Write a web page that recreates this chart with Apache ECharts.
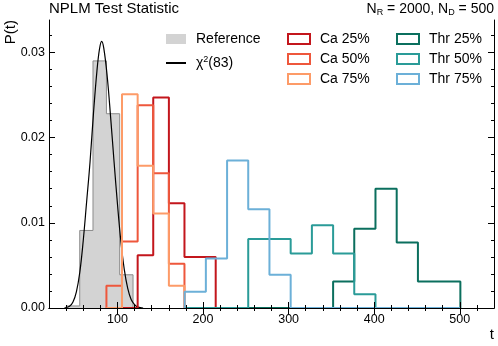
<!DOCTYPE html>
<html>
<head>
<meta charset="utf-8">
<script src="https://cdn.jsdelivr.net/npm/echarts@6/dist/echarts.min.js"></script>
<style>
  html, body { margin: 0; padding: 0; background: #fff; }
  #chart { width: 498px; height: 346px; }
</style>
</head>
<body>
<div id="chart"></div>
<script>
// NPLM test statistic distributions
var refEdges = [40.3, 55.9, 71.4, 87.1, 102.6, 118.2];
var refVals = [0.00024, 0.0091, 0.0290, 0.0228, 0.0039];

var caEdges = [87.1, 105.3, 123.6, 141.8, 160.1, 178.3, 196.5, 214.8];
var ca25 = [0, 0, 0.0062, 0.0247, 0.0123, 0.0060, 0.0060];
var ca50 = [0.0026, 0.0078, 0.0238, 0.0158, 0.0052, 0, 0];
var ca75 = [0, 0.0251, 0.0167, 0.0111, 0.0026, 0, 0];

var thrEdges = [178.5, 203.3, 228.1, 252.8, 277.6, 302.4, 327.2, 352.0, 376.7, 401.5, 426.3, 451.1, 475.9, 500.7];
var thr25 = [0, 0, 0, 0, 0, 0, 0, 0.0031, 0.0093, 0.0140, 0.0077, 0.0031, 0.0031];
var thr50 = [0, 0, 0, 0.0081, 0.0081, 0.0064, 0.0097, 0.0064, 0.0016, 0, 0, 0, 0];
var thr75 = [0.0019, 0.0058, 0.0173, 0.0116, 0.0039, 0, 0, 0, 0, 0, 0, 0, 0];

// chi2(83) curve
var chiT = [38, 44, 48, 52, 56, 60, 64, 68, 72, 76, 79, 81.5, 84, 88, 92, 96, 100, 104, 108, 112, 116, 120, 124, 130];
var chiP = [0, 0.0002, 0.0007, 0.0019, 0.0042, 0.0079, 0.0125, 0.0172, 0.0229, 0.0278, 0.0304, 0.0313, 0.0305,
            0.0272, 0.0224, 0.0172, 0.0122, 0.0078, 0.0045, 0.0023, 0.0010, 0.0004, 0.0001, 0];

var xMajor = [100, 200, 300, 400, 500];
var xMinor = [40, 60, 80, 120, 140, 160, 180, 220, 240, 260, 280, 320, 340, 360, 380, 420, 440, 460, 480, 520];
var yMajor = [0, 0.01, 0.02, 0.03];
var yMinor = [0.002, 0.004, 0.006, 0.008, 0.012, 0.014, 0.016, 0.018, 0.022, 0.024, 0.026, 0.028, 0.032];

var font = "'Liberation Sans', Arial, sans-serif";
var colors = {
  ca25: '#c3161c', ca50: '#ee573c', ca75: '#fd9b68',
  thr25: '#0b6f5e', thr50: '#2a9b98', thr75: '#6cb0d8'
};

// step outline from bin edges + heights
function stepPoints(edges, vals) {
  var pts = [[edges[0], 0]];
  for (var i = 0; i < vals.length; i++) {
    pts.push([edges[i], vals[i]]);
    pts.push([edges[i + 1], vals[i]]);
  }
  pts.push([edges[vals.length], 0]);
  return pts;
}

function histSeries(name, edges, vals, color) {
  return {
    name: name,
    type: 'line',
    symbol: 'none',
    data: stepPoints(edges, vals),
    lineStyle: { width: 2, color: color },
    itemStyle: { color: color },
    z: 3
  };
}

function tickAxis(pos, ticks, len, extra) {
  var a = {
    type: 'value',
    position: pos,
    axisLine: { show: true, lineStyle: { color: '#000', width: 1 } },
    axisTick: { show: true, inside: true, length: len, customValues: ticks, lineStyle: { color: '#000', width: 1 } },
    axisLabel: { show: false },
    splitLine: { show: false },
    z: 10
  };
  for (var k in extra) a[k] = extra[k];
  return a;
}

var xRange = { min: 20, max: 540 };
var yRange = { min: 0, max: 0.0338 };

function withRange(r, o) {
  o = o || {};
  o.min = r.min; o.max = r.max;
  return o;
}

var xBottom = tickAxis('bottom', xMajor, 6, withRange(xRange));
xBottom.axisLabel = {
  show: true, customValues: xMajor, margin: 5,
  color: '#000', fontSize: 12.5, fontFamily: font
};
var yLeft = tickAxis('left', yMajor, 6, withRange(yRange));
yLeft.axisLabel = {
  show: true, customValues: yMajor, margin: 4,
  color: '#000', fontSize: 12.5, fontFamily: font,
  formatter: function (v) { return v.toFixed(2); }
};

var chart = echarts.init(document.getElementById('chart'), null, { renderer: 'canvas' });

var legendText = { color: '#000', fontSize: 14, fontFamily: font, padding: [0, 0, 0, 5],
  rich: { sup: { fontSize: 9, fontFamily: font, color: '#000', padding: [0, 0, 7, 0] } } };

function boxItem(name, color) {
  return { name: name, icon: 'rect', itemStyle: { color: 'rgba(0,0,0,0)', borderColor: color, borderWidth: 2 } };
}

chart.setOption({
  animation: false,
  backgroundColor: '#fff',
  textStyle: { fontFamily: font },
  grid: { left: 49, right: 4, top: 20, bottom: 38 },
  title: [
    { text: 'NPLM Test Statistic', left: 49, top: 1, padding: 0,
      textStyle: { fontFamily: font, fontSize: 15, fontWeight: 'normal', color: '#000' } },
    { text: 'N{s|R} = 2000, N{s|D} = 500', right: 4, top: 1, padding: 0,
      textStyle: { fontFamily: font, fontSize: 14, fontWeight: 'normal', color: '#000',
        rich: { s: { fontSize: 9, fontFamily: font, color: '#000', padding: [7, 0, 0, 0] } } } }
  ],
  legend: [
    { orient: 'vertical', left: 165, top: 32, itemWidth: 20, itemHeight: 10, itemGap: 9, padding: 0,
      textStyle: legendText,
      formatter: function (n) { return n === 'chi2' ? 'χ{sup|2}(83)' : n; },
      data: [
        { name: 'Reference', icon: 'rect', itemStyle: { color: '#d3d3d3', borderWidth: 0 } },
        { name: 'chi2', itemStyle: { opacity: 0 } }
      ] },
    { orient: 'vertical', left: 287, top: 32, itemWidth: 22, itemHeight: 10, itemGap: 6, padding: 0,
      textStyle: legendText,
      data: [boxItem('Ca 25%', colors.ca25), boxItem('Ca 50%', colors.ca50), boxItem('Ca 75%', colors.ca75)] },
    { orient: 'vertical', left: 396, top: 32, itemWidth: 22, itemHeight: 10, itemGap: 6, padding: 0,
      textStyle: legendText,
      data: [boxItem('Thr 25%', colors.thr25), boxItem('Thr 50%', colors.thr50), boxItem('Thr 75%', colors.thr75)] }
  ],
  xAxis: [
    xBottom,
    tickAxis('bottom', xMinor, 3, withRange(xRange, { axisLine: { show: false } })),
    tickAxis('top', xMajor, 6, withRange(xRange)),
    tickAxis('top', xMinor, 3, withRange(xRange, { axisLine: { show: false } }))
  ],
  yAxis: [
    yLeft,
    tickAxis('left', yMinor, 3, withRange(yRange, { axisLine: { show: false } })),
    tickAxis('right', yMajor, 6, withRange(yRange)),
    tickAxis('right', yMinor, 3, withRange(yRange, { axisLine: { show: false } }))
  ],
  graphic: [
    { type: 'text', x: 3, y: 20, rotation: Math.PI / 2,
      style: { text: 'P(t)', fill: '#000', font: '15px ' + font, align: 'right', verticalAlign: 'top' } },
    { type: 'text', x: 494, y: 327,
      style: { text: 't', fill: '#000', font: '15px ' + font, align: 'right', verticalAlign: 'top' } }
  ],
  series: [
    {
      name: 'Reference', type: 'line', symbol: 'none',
      data: stepPoints(refEdges, refVals),
      lineStyle: { width: 1, color: '#8c8c8c' },
      areaStyle: { color: '#d3d3d3', opacity: 1 },
      itemStyle: { color: '#d3d3d3' },
      z: 1
    },
    {
      name: 'chi2', type: 'line', symbol: 'none', smooth: 0.4,
      data: chiT.map(function (t, i) { return [t, chiP[i]]; }),
      lineStyle: { width: 1.2, color: '#000' },
      itemStyle: { color: '#000' },
      z: 2
    },
    histSeries('Ca 25%', caEdges, ca25, colors.ca25),
    histSeries('Ca 50%', caEdges, ca50, colors.ca50),
    histSeries('Ca 75%', caEdges, ca75, colors.ca75),
    histSeries('Thr 25%', thrEdges, thr25, colors.thr25),
    histSeries('Thr 50%', thrEdges, thr50, colors.thr50),
    histSeries('Thr 75%', thrEdges, thr75, colors.thr75)
  ]
});
</script>
</body>
</html>
